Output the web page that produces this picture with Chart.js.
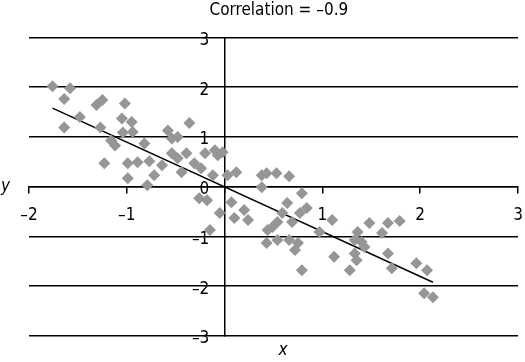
<!DOCTYPE html>
<html>
<head>
<meta charset="utf-8">
<script src="https://cdn.jsdelivr.net/npm/chart.js@4"></script>
<style>
  html, body { margin: 0; padding: 0; background: #fff; overflow: hidden; }
  #wrap { width: 525px; height: 362px; position: relative; }
  canvas { display: block; }
</style>
</head>
<body>
<div id="wrap"><canvas id="chart"></canvas></div>
<script>
const FONT = "'Liberation Sans Narrow', 'DejaVu Sans Condensed', 'Roboto', sans-serif";

// scatter points
const xs = [-1.76, -1.58, -1.64, -1.31, -1.25, -1.02, -1.48, -1.64, -1.27, -1.05, -0.95, -1.04,
  -0.94, -1.16, -1.12, -0.82, -1.23, -0.99, -0.89, -0.77, -0.99, -0.79, -0.72, -0.64,
  -0.36, -0.58, -0.54, -0.48, -0.54, -0.39, -0.48, -0.20, -0.10, -0.07, -0.02, -0.31,
  -0.24, -0.44, -0.12, -0.26, -0.18, -0.05, -0.15,
  0.03, 0.12, 0.38, 0.43, 0.53, 0.66, 0.38, 0.79, 0.07, 0.20, 0.10, 0.24, 0.64, 0.84,
  0.59, 0.77, 0.54, 0.49, 0.44, 0.69, 0.97, 0.43, 0.54, 0.66, 0.75, 0.72, 0.79,
  1.10, 1.48, 1.67, 1.79, 1.36, 1.61, 1.33, 1.40, 1.43, 1.12, 1.33, 1.35, 1.67, 1.28,
  1.71, 1.96, 2.07, 2.04, 2.13];
const ys = [2.02, 1.98, 1.76, 1.64, 1.74, 1.67, 1.40, 1.19, 1.19, 1.37, 1.30, 1.09,
  1.10, 0.93, 0.83, 0.87, 0.47, 0.47, 0.49, 0.51, 0.17, 0.03, 0.23, 0.43,
  1.28, 1.13, 0.97, 1.00, 0.67, 0.67, 0.57, 0.67, 0.73, 0.63, 0.69, 0.47,
  0.37, 0.29, 0.23, -0.23, -0.27, -0.53, -0.87,
  0.23, 0.29, 0.23, 0.27, 0.27, 0.21, -0.01, -0.13, -0.31, -0.47, -0.63, -0.67, -0.33, -0.43,
  -0.53, -0.53, -0.71, -0.81, -0.87, -0.71, -0.91, -1.13, -1.07, -1.07, -1.13, -1.27, -1.68,
  -0.67, -0.73, -0.73, -0.69, -0.91, -0.93, -1.07, -1.11, -1.21, -1.41, -1.34, -1.48, -1.34, -1.68,
  -1.64, -1.54, -1.68, -2.14, -2.22];

// fitted line end points
const lineXs = [-1.76, 2.13];
const lineYs = [1.58, -1.92];

const xTicks = [-2, -1, 1, 2, 3];

const minus = v => v < 0 ? '–' + Math.abs(v) : String(v);

const axisTitles = {
  id: 'axisTitles',
  afterDraw(chart) {
    const ctx = chart.ctx;
    ctx.save();
    ctx.fillStyle = '#000';
    ctx.font = 'italic 17px ' + FONT;
    ctx.textBaseline = 'middle';
    ctx.textAlign = 'left';
    ctx.fillText('y', 1, 187);
    ctx.textAlign = 'center';
    ctx.fillText('x', 283, 351);
    ctx.restore();
  }
};

new Chart(document.getElementById('chart'), {
  type: 'scatter',
  data: {
    datasets: [
      {
        data: xs.map((x, i) => ({x: x, y: ys[i]})),
        backgroundColor: '#969696',
        borderWidth: 0,
        pointStyle: 'rectRot',
        pointRadius: 6,
        pointHoverRadius: 6
      },
      {
        type: 'line',
        data: lineXs.map((x, i) => ({x: x, y: lineYs[i]})),
        borderColor: '#000',
        borderWidth: 1.5,
        pointRadius: 0,
        fill: false
      }
    ]
  },
  options: {
    responsive: true,
    maintainAspectRatio: false,
    animation: false,
    events: [],
    layout: { padding: { left: 29, right: 7, top: 0, bottom: 26 } },
    plugins: {
      legend: { display: false },
      tooltip: { enabled: false },
      title: {
        display: true,
        text: '\u2002\u2009Correlation = –0.9',
        color: '#000',
        font: { family: FONT, size: 17, weight: 'normal' },
        padding: { top: 0, bottom: 17 }
      }
    },
    scales: {
      x: {
        type: 'linear',
        position: { y: 0 },
        min: -2,
        max: 3,
        grid: { drawOnChartArea: false, drawTicks: true, tickLength: 6, color: '#000', lineWidth: 1.5 },
        border: { display: true, color: '#000', width: 1.5 },
        ticks: {
          stepSize: 1,
          padding: 2,
          color: '#000',
          // tall line box drops the labels below the tick marks
          font: { family: FONT, size: 17, lineHeight: 2.47 },
          callback: v => xTicks.includes(v) ? minus(v) : ''
        }
      },
      y: {
        type: 'linear',
        position: { x: 0 },
        min: -3,
        max: 3,
        grid: { drawOnChartArea: true, drawTicks: false, color: '#000', lineWidth: 1.5 },
        border: { display: true, color: '#000', width: 1.5 },
        ticks: {
          stepSize: 1,
          labelOffset: 3,
          color: '#000',
          font: { family: FONT, size: 17 },
          // labels sit left of the axis line
          callback: v => minus(v) + '\u2002\u2002'
        }
      }
    }
  },
  plugins: [axisTitles]
});
</script>
</body>
</html>
